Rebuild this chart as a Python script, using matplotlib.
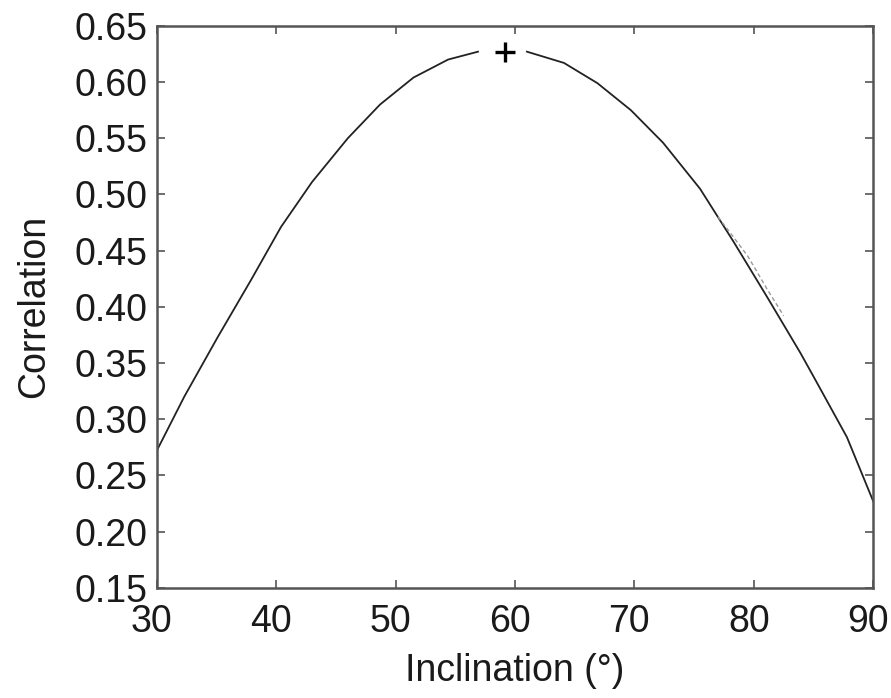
import numpy as np
import matplotlib
matplotlib.use('Agg')
import matplotlib.pyplot as plt
import matplotlib.transforms as mtransforms

# Curve (inclination in degrees, correlation)
incl_left = [30.0, 32.3, 35.1, 37.9, 40.4, 43.0, 46.0, 48.7, 51.5, 54.4, 56.9]
corr_left = [0.272, 0.320, 0.373, 0.424, 0.471, 0.511, 0.550, 0.580, 0.604, 0.620, 0.627]
incl_right = [61.0, 64.1, 66.9, 69.7, 72.4, 75.5, 78.3, 81.1, 83.9, 85.0, 87.8, 90.0]
corr_right = [0.627, 0.617, 0.599, 0.575, 0.546, 0.505, 0.458, 0.409, 0.359, 0.338, 0.284, 0.227]

# faint second trace overlapping near 77-83 deg
incl_faint = [77.0, 78.3, 79.5, 81.1, 82.5]
corr_faint = [0.480, 0.462, 0.445, 0.416, 0.392]

peak_incl = 59.2
peak_corr = 0.627

xticks = [30, 40, 50, 60, 70, 80, 90]
yticks = [0.15, 0.20, 0.25, 0.30, 0.35, 0.40, 0.45, 0.50, 0.55, 0.60, 0.65]

plt.rcParams['font.family'] = ['Liberation Sans', 'DejaVu Sans']

fig = plt.figure(figsize=(8.91, 6.98), dpi=100)
ax = fig.add_axes([0.176, 0.158, 0.804, 0.805])

ax.plot(incl_left, corr_left, color='#222222', linewidth=1.3)
ax.plot(incl_right, corr_right, color='#222222', linewidth=1.3)
ax.plot(incl_faint, corr_faint, color='#999999', linewidth=1.0, linestyle=(0, (3, 2)))
ax.plot(peak_incl, peak_corr, marker='+', color='black', markersize=14, markeredgewidth=2.4)

ax.set_xlim(30, 90)
ax.set_ylim(0.15, 0.65)
ax.set_xticks(xticks)
ax.set_yticks(yticks)
ax.set_yticklabels(['%.2f' % v for v in yticks])

ax.tick_params(direction='in', top=True, right=True, length=6, width=1.2,
               color='#555555', labelsize=27, labelcolor='#1a1a1a')
ax.tick_params(axis='y', pad=7)
ax.tick_params(axis='x', pad=12)
for s in ax.spines.values():
    s.set_color('#555555')
    s.set_linewidth(1.8)

# x tick labels sit a little left of their ticks in the original
shift = mtransforms.ScaledTranslation(-5 / 100, 0, fig.dpi_scale_trans)
for lbl in ax.get_xticklabels():
    lbl.set_transform(lbl.get_transform() + shift)

ax.set_xlabel('Inclination (°)', fontsize=27, labelpad=9, color='#1a1a1a')
ax.set_ylabel('Correlation', fontsize=27, labelpad=16, color='#1a1a1a')

fig.savefig('out.png', dpi=100)
